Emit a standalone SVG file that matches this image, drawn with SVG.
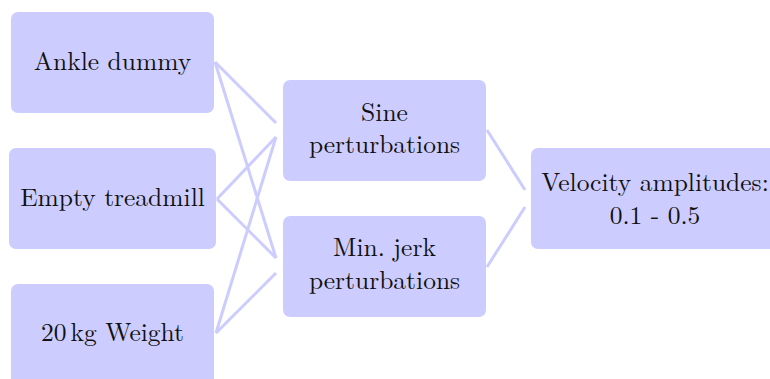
<svg xmlns="http://www.w3.org/2000/svg" width="770" height="379" viewBox="0 0 770 379">
  <style>
    .box { fill: #ccccff; }
    .lbl { font-size: 25.5px; fill: #111111; text-anchor: middle; }
    .edge { stroke: #ccccff; stroke-width: 3; fill: none; }
  </style>
  <rect width="770" height="379" fill="#ffffff"/>

  <!-- connectors -->
  <g id="connectors">
    <line class="edge" x1="215" y1="62" x2="276" y2="123"/>
    <line class="edge" x1="215" y1="62" x2="276" y2="258"/>
    <line class="edge" x1="217" y1="199" x2="276" y2="137"/>
    <line class="edge" x1="217" y1="199" x2="276" y2="258"/>
    <line class="edge" x1="216" y1="333" x2="276" y2="137"/>
    <line class="edge" x1="216" y1="333" x2="276" y2="273"/>
    <line class="edge" x1="487" y1="130" x2="525" y2="190"/>
    <line class="edge" x1="487" y1="267" x2="525" y2="207"/>
  </g>

  <g font-family="Latin Modern Roman, Liberation Serif, serif">
    <!-- input setups -->
    <g id="ankle-dummy">
      <rect class="box" x="11" y="12" width="203" height="101" rx="7"/>
      <text class="lbl" x="112.5" y="70">Ankle dummy</text>
    </g>
    <g id="empty-treadmill">
      <rect class="box" x="9" y="148" width="207" height="101" rx="7"/>
      <text class="lbl" x="112.5" y="206">Empty treadmill</text>
    </g>
    <g id="weight">
      <rect class="box" x="11" y="284" width="203" height="101" rx="7"/>
      <text class="lbl" x="112.5" y="341">20<tspan dx="4">kg Weight</tspan></text>
    </g>

    <!-- perturbation types -->
    <g id="sine">
      <rect class="box" x="283" y="80" width="203" height="101" rx="7"/>
      <text class="lbl" x="384.5" y="120.5">Sine</text>
      <text class="lbl" x="384.5" y="153">perturbations</text>
    </g>
    <g id="min-jerk">
      <rect class="box" x="283" y="216" width="203" height="101" rx="7"/>
      <text class="lbl" x="384.5" y="256">Min. jerk</text>
      <text class="lbl" x="384.5" y="288.5">perturbations</text>
    </g>

    <!-- amplitudes -->
    <g id="velocity">
      <rect class="box" x="531" y="148" width="250" height="101" rx="7"/>
      <text class="lbl" x="655" y="191">Velocity amplitudes:</text>
      <text class="lbl" x="655" y="223.5">0.1 - 0.5</text>
    </g>
  </g>
</svg>
